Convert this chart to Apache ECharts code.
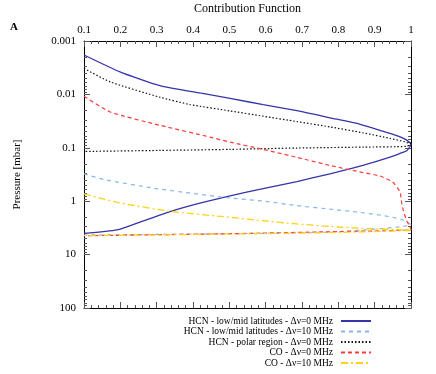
<!DOCTYPE html>
<html>
<head>
<meta charset="utf-8">
<script src="https://cdn.jsdelivr.net/npm/echarts@6/dist/echarts.min.js"></script>
<style>
  html, body { margin: 0; padding: 0; background: #fff; }
  #chart { width: 436px; height: 374px; }
</style>
</head>
<body>
<div id="chart"></div>
<script>
// [contribution function, pressure mbar]
const hcnLowMid0 = [
  [0.1, 0.00183], [0.199, 0.00378], [0.309, 0.00686], [0.419, 0.0094], [0.502, 0.0119],
  [0.593, 0.0155], [0.686, 0.0202], [0.777, 0.0274], [0.86, 0.0363], [0.942, 0.0536],
  [0.97, 0.0624], [0.989, 0.0726], [1.0, 0.0863], [0.989, 0.112], [0.97, 0.127],
  [0.942, 0.15], [0.868, 0.214], [0.777, 0.307], [0.686, 0.428], [0.593, 0.579],
  [0.502, 0.791], [0.419, 1.09], [0.339, 1.55], [0.254, 2.46], [0.191, 3.46], [0.1, 4.01]
]
const hcnLowMid10 = [
  [0.1, 0.307], [0.155, 0.393], [0.293, 0.572], [0.485, 0.845], [0.593, 0.995],
  [0.686, 1.21], [0.777, 1.41], [0.86, 1.62], [0.942, 1.95], [0.978, 2.25],
  [1.0, 2.75], [0.777, 3.79], [0.1, 4.3]
]
const hcnPolar0 = [
  [0.1, 0.00326], [0.172, 0.00582], [0.309, 0.0113], [0.392, 0.0155], [0.502, 0.0204],
  [0.593, 0.0256], [0.686, 0.0323], [0.777, 0.0406], [0.868, 0.0525], [0.942, 0.0665],
  [0.983, 0.0775], [1.0, 0.0863], [0.988, 0.094], [0.869, 0.097], [0.686, 0.101],
  [0.502, 0.107], [0.309, 0.112], [0.1, 0.117]
]
const co0 = [
  [0.1, 0.0108], [0.172, 0.0213], [0.309, 0.0379], [0.447, 0.063], [0.502, 0.0782],
  [0.593, 0.107], [0.686, 0.151], [0.777, 0.214], [0.868, 0.291], [0.915, 0.338],
  [0.95, 0.441], [0.97, 0.68], [0.974, 1.05], [0.979, 1.5], [0.988, 2.32],
  [0.997, 3.0], [1.0, 3.42], [0.777, 3.73], [0.502, 4.06], [0.1, 4.43]
]
const co10 = [
  [0.1, 0.729], [0.191, 1.05], [0.339, 1.55], [0.485, 1.95], [0.593, 2.32],
  [0.686, 2.67], [0.777, 2.96], [0.868, 3.23], [0.961, 3.39], [1.0, 3.49],
  [0.777, 3.87], [0.502, 4.12], [0.1, 4.43]
]
const seriesNames = [
  'HCN - low/mid latitudes - Δν=0 MHz',
  'HCN - low/mid latitudes - Δν=10 MHz',
  'HCN - polar region - Δν=0 MHz',
  'CO - Δν=0 MHz',
  'CO - Δν=10 MHz'
]
const yMajorTicks = [0.001, 0.01, 0.1, 1, 10, 100]

// minor log ticks 2..9 in each decade
const yMinorTicks = []
for (let d = 0; d < yMajorTicks.length - 1; d++) {
  for (let k = 2; k <= 9; k++) yMinorTicks.push(+(yMajorTicks[d] * k).toPrecision(3))
}

const FONT = 'Liberation Serif'
const chart = echarts.init(document.getElementById('chart'))

const xBase = {
  type: 'value',
  min: 0.1,
  max: 1,
  interval: 0.1,
  axisLine: { lineStyle: { color: '#000', width: 1 } },
  axisTick: { inside: true, length: 6, lineStyle: { color: '#555' } },
  minorTick: { show: true, splitNumber: 5, length: 3, lineStyle: { color: '#555' } },
  splitLine: { show: false },
}
const yBase = {
  type: 'log',
  min: 0.001,
  max: 100,
  inverse: true,
  splitLine: { show: false },
  axisLine: { show: true, lineStyle: { color: '#000', width: 1 } },
}

chart.setOption({
  animation: false,
  backgroundColor: '#fff',
  grid: { left: 84, right: 25, top: 41, bottom: 66, outerBoundsMode: 'none', containLabel: false },
  graphic: [
    { type: 'text', left: 10, top: 22, style: { text: 'A', font: 'bold 11px ' + FONT, fill: '#000' } }
  ],
  xAxis: [
    Object.assign({}, xBase, {
      position: 'top',
      name: 'Contribution Function',
      nameLocation: 'middle',
      nameGap: 26,
      nameTextStyle: { fontFamily: FONT, fontSize: 12, color: '#000' },
      axisLabel: {
        margin: 5, fontFamily: FONT, fontSize: 11, color: '#000',
        formatter: v => String(+v.toFixed(1))
      },
    }),
    Object.assign({}, xBase, { position: 'bottom', axisLabel: { show: false } }),
  ],
  yAxis: [
    Object.assign({}, yBase, {
      position: 'left',
      name: 'Pressure [mbar]',
      nameLocation: 'middle',
      nameGap: 61,
      nameTextStyle: { fontFamily: FONT, fontSize: 11, color: '#000' },
      axisTick: { inside: true, length: 6, customValues: yMajorTicks, lineStyle: { color: '#555' } },
      axisLabel: {
        margin: 8, fontFamily: FONT, fontSize: 11, color: '#000',
        customValues: yMajorTicks,
        formatter: v => String(+(+v).toPrecision(3))
      },
    }),
    Object.assign({}, yBase, {
      position: 'left',
      axisLine: { show: false },
      axisLabel: { show: false },
      axisTick: { inside: true, length: 3, customValues: yMinorTicks, lineStyle: { color: '#555' } },
    }),
    Object.assign({}, yBase, {
      position: 'right',
      axisLabel: { show: false },
      axisTick: { inside: true, length: 6, customValues: yMajorTicks, lineStyle: { color: '#555' } },
    }),
    Object.assign({}, yBase, {
      position: 'right',
      axisLine: { show: false },
      axisLabel: { show: false },
      axisTick: { inside: true, length: 3, customValues: yMinorTicks, lineStyle: { color: '#555' } },
    }),
  ],
  legend: {
    orient: 'vertical',
    align: 'right',
    right: 64,
    top: 316,
    itemWidth: 30,
    itemHeight: 8,
    itemGap: 0.5,
    padding: 0,
    itemStyle: { opacity: 0 },
    textStyle: { fontFamily: FONT, fontSize: 9.5, lineHeight: 10, color: '#000', padding: [0, 3, 0, 0] },
    data: seriesNames,
  },
  series: [
    {
      name: seriesNames[0], type: 'line', data: hcnLowMid0, symbol: 'none', smooth: 0.2,
      lineStyle: { color: '#3535a8', width: 1.3 }, itemStyle: { color: '#3535a8' },
    },
    {
      name: seriesNames[1], type: 'line', data: hcnLowMid10, symbol: 'none', smooth: 0.2,
      lineStyle: { color: '#8ab4ee', width: 1.2, type: [4, 4] }, itemStyle: { color: '#8ab4ee' },
    },
    {
      name: seriesNames[2], type: 'line', data: hcnPolar0, symbol: 'none', smooth: 0.2,
      lineStyle: { color: '#111', width: 1.2, type: [1.5, 2] }, itemStyle: { color: '#111' },
    },
    {
      name: seriesNames[3], type: 'line', data: co0, symbol: 'none', smooth: 0.2,
      lineStyle: { color: '#ff3b3b', width: 1.2, type: [4, 3] }, itemStyle: { color: '#ff3b3b' },
    },
    {
      name: seriesNames[4], type: 'line', data: co10, symbol: 'none', smooth: 0.2,
      lineStyle: { color: '#ffd21a', width: 1.3, type: [7, 3, 2, 3] }, itemStyle: { color: '#ffd21a' },
    },
  ],
})
</script>
</body>
</html>
